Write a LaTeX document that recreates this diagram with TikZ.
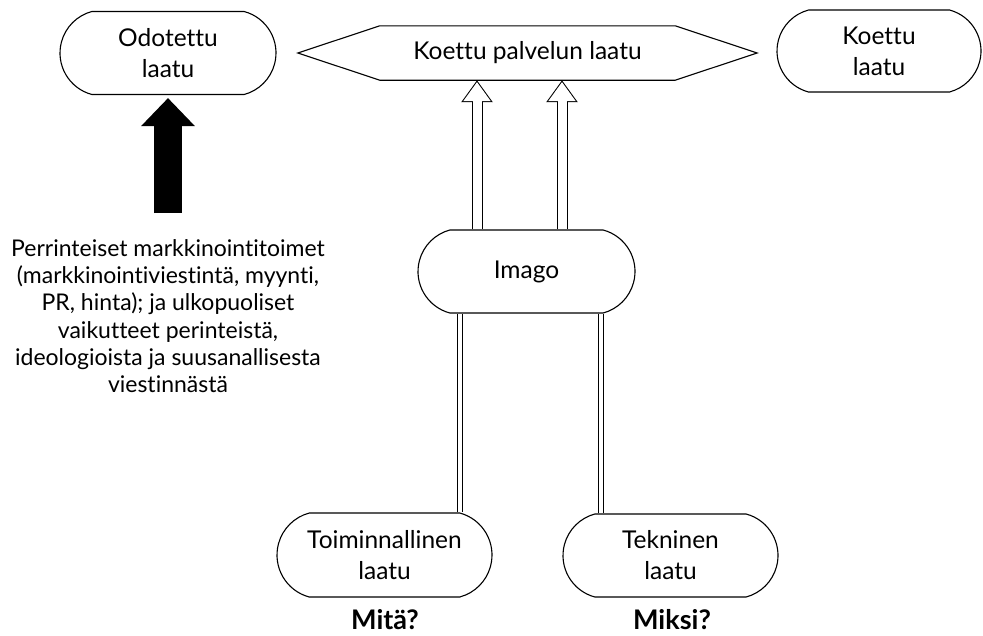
\documentclass[tikz,border=0pt]{standalone}
\usepackage{fontspec}
\setmainfont{Lato}[Ligatures={NoCommon,TeX}]
\usetikzlibrary{shapes.misc,arrows.meta,backgrounds}

\tikzset{
	box/.style={draw, fill=white, line width=1.1pt, rounded rectangle, rounded rectangle arc length=150,
		minimum width=216pt, minimum height=83pt, inner sep=0pt, align=center,
		font=\fontsize{24.5}{31}\selectfont},
	hollow/.style={line width=11pt, -{Triangle[length=22pt,width=30pt]},
		postaction={draw=white, line width=9pt, arrows={-{Triangle[length=19.2pt,width=26.2pt]}}, shorten >=1.8pt}},
	bar/.style={double, double distance=4pt, line width=1pt},
	bigarrow/.style={line width=28pt, -{Triangle[length=28pt,width=52pt]}},
	qlabel/.style={anchor=base, inner sep=0pt, font=\fontsize{27}{30}\selectfont\bfseries}
}

\begin{document}
\begin{tikzpicture}[x=1pt,y=-1pt]
	\useasboundingbox (0,0) rectangle (983,635);
	\node[box] (odo) at (168,53) {Odotettu\\laatu};
	\node[minimum width=295pt, minimum height=54pt, inner sep=0pt, font=\fontsize{24.5}{31}\selectfont] (kpl) at (527.5,53) {Koettu palvelun laatu};
	\node[box, minimum width=204pt, minimum height=82pt] (koe) at (879,51) {Koettu\\laatu};
	\node[box, minimum width=217pt] (imago) at (526.5,271.5) {Imago};
	\node[box, minimum width=215pt, minimum height=84pt] (toim) at (384.5,555) {Toiminnallinen\\laatu};
	\node[box, minimum width=215pt] (tekn) at (670.5,555.5) {Tekninen\\laatu};
	\node[qlabel] (mita) at (385,629) {Mitä?};
	\node[qlabel] (miksi) at (672,629) {Miksi?};
	\node[align=center, font=\fontsize{23}{27.3}\selectfont] (txt) at (168,316)
		{Perrinteiset markkinointitoimet\\(markkinointiviestintä, myynti,\\PR, hinta); ja ulkopuoliset\\vaikutteet perinteistä,\\ideologioista ja suusanallisesta\\viestinnästä};
	
	\draw[line width=1.1pt] (kpl.north west) -- ([xshift=-82pt]kpl.west) -- (kpl.south west) -- (kpl.south east)
		-- ([xshift=82pt]kpl.east) -- (kpl.north east) -- cycle;
	
	\coordinate (base) at (168,213);
	\coordinate (a1) at (477,0);
	\coordinate (a2) at (562,0);
	\coordinate (b1) at (460,0);
	\coordinate (b2) at (601,0);
	\begin{scope}[on background layer]
		\draw[bigarrow] (base) -- ([yshift=-3pt]odo.south);
		\draw[hollow] (imago.north -| a1) -- (kpl.south -| a1);
		\draw[hollow] (imago.north -| a2) -- (kpl.south -| a2);
		\draw[bar] (toim.north -| b1) -- (imago.south -| b1);
		\draw[bar] (tekn.north -| b2) -- (imago.south -| b2);
	\end{scope}
\end{tikzpicture}
\end{document}
